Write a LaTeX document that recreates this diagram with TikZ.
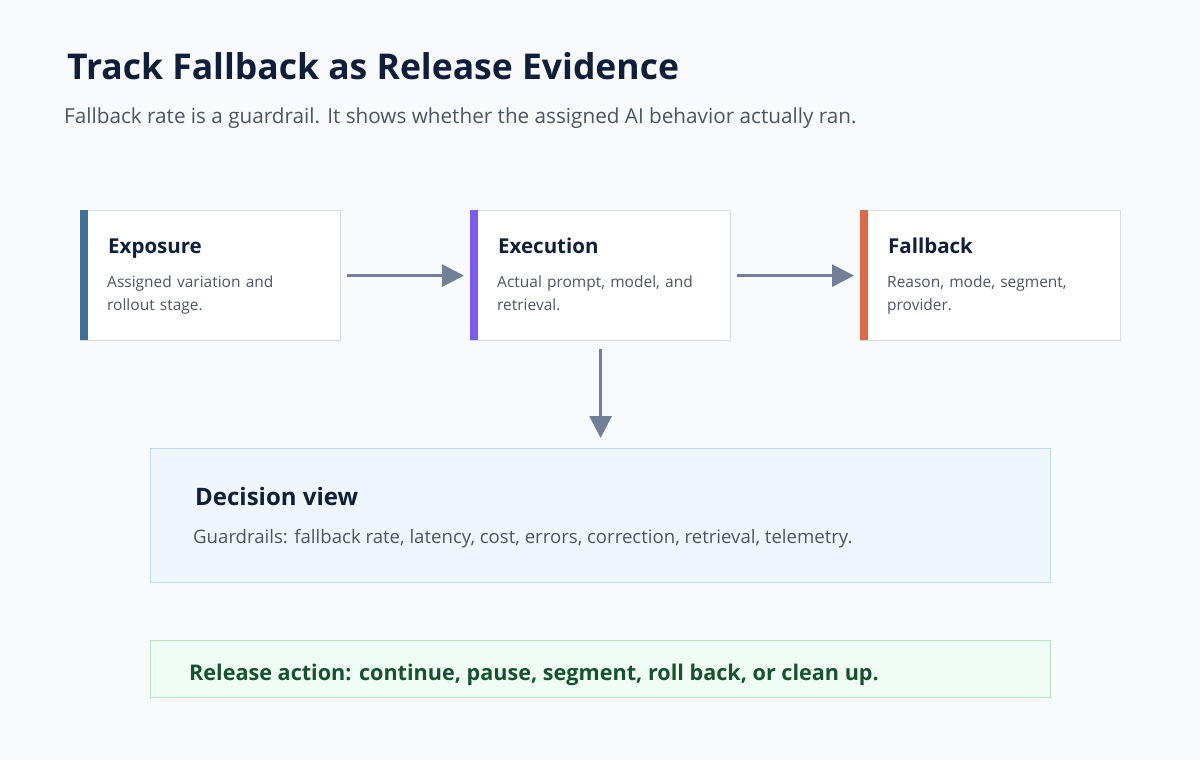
\documentclass[tikz,border=0pt]{standalone}
\usepackage{fontspec}
\setmainfont{Open Sans}
\usetikzlibrary{arrows.meta}
\definecolor{bg}{HTML}{F8FAFC}
\definecolor{ink}{HTML}{0F1F3A}
\definecolor{sub}{HTML}{4B5563}
\definecolor{bd}{HTML}{D5DEE8}
\definecolor{arr}{HTML}{718096}
\definecolor{cA}{HTML}{3F7098}
\definecolor{cB}{HTML}{7B5CF0}
\definecolor{cC}{HTML}{E0684B}
\definecolor{dfill}{HTML}{EEF6FE}
\definecolor{dbd}{HTML}{BFDBF5}
\definecolor{rfill}{HTML}{F0FDF4}
\definecolor{rbd}{HTML}{B5E3C4}
\definecolor{rink}{HTML}{14532D}
\begin{document}
\begin{tikzpicture}[x=1pt,y=-1pt,
 card/.style={draw=bd,fill=white,line width=1.2pt,minimum width=260pt,minimum height=130pt,anchor=north west,inner sep=0},
 ttl/.style={anchor=base west,font=\fontsize{20.5}{24}\selectfont\bfseries,text=ink,inner sep=0},
 body/.style={anchor=north west,font=\fontsize{15.5}{23}\selectfont,text=sub,align=left,inner sep=0,text width=220pt},
 ar/.style={draw=arr,line width=3pt,-{Triangle[length=22pt,width=22pt]}}]
\fill[bg] (0,0) rectangle (1200,760);
\node[anchor=base west,inner sep=0,font=\fontsize{35.5}{40}\selectfont\bfseries,text=ink] (t) at (67,80) {Track Fallback as Release Evidence};
\node[anchor=base west,inner sep=0,font=\fontsize{20.7}{24}\selectfont,text=sub] (s) at (64,123) {Fallback rate is a guardrail. It shows whether the assigned AI behavior actually ran.};
\foreach \n/\x/\c/\t/\a/\b in {a/80/cA/Exposure/Assigned variation and/rollout stage.,b/470/cB/Execution/{Actual prompt, model, and}/retrieval.,c/860/cC/Fallback/{Reason, mode, segment,}/provider.}{
 \node[card] (\n) at (\x,210) {};
 \fill[\c] (\x,210) rectangle (\x+8,340);
 \node[ttl] (\n t) at (\x+28,253) {\t};
 \node[body] (\n b) at (\x+27,276) {\a\\\b};
}
\draw[ar] ([xshift=6pt]a.east) -- ([xshift=-6pt]b.west);
\draw[ar] ([xshift=6pt]b.east) -- ([xshift=-6pt]c.west);
\node[draw=dbd,fill=dfill,line width=1.2pt,minimum width=900pt,minimum height=134pt,anchor=north west] (d) at (150,448) {};
\draw[ar] ([yshift=-8pt]b.south) -- ([yshift=10pt]d.north -| b.south);
\node[ttl,font=\fontsize{24}{28}\selectfont\bfseries] (dt) at (195,505) {Decision view};
\node[anchor=base west,inner sep=0,font=\fontsize{18.6}{20}\selectfont,text=sub] (db) at (193,543) {Guardrails: fallback rate, latency, cost, errors, correction, retrieval, telemetry.};
\node[draw=rbd,fill=rfill,line width=1.2pt,minimum width=900pt,minimum height=57pt,anchor=north west] (r) at (150,640) {};
\node[anchor=base west,inner sep=0,font=\fontsize{21.6}{24}\selectfont\bfseries,text=rink] (rt) at (189,680) {Release action: continue, pause, segment, roll back, or clean up.};
\end{tikzpicture}
\end{document}
